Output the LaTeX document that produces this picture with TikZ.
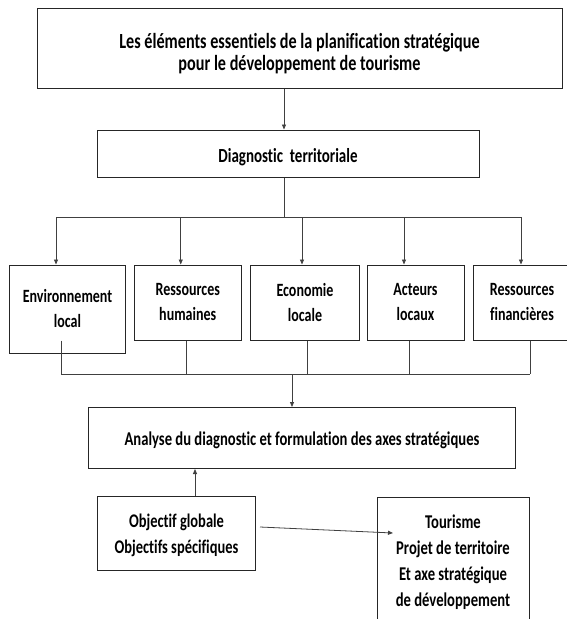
\documentclass[tikz,border=0pt]{standalone}
\usepackage{fontspec}
\setmainfont[FakeStretch=0.75,Ligatures={NoCommon}]{Carlito}
\usetikzlibrary{arrows.meta}
\begin{document}
\begin{tikzpicture}[x=1pt,y=-1pt,
  box/.style={draw=black!85, line width=1pt, align=center, inner sep=0pt,
    font=\bfseries\fontsize{18.7}{25}\selectfont},
  conn/.style={draw=black!75, line width=0.8pt},
  arr/.style={conn, -{Triangle[length=5pt,width=4pt]}}]
\useasboundingbox (0,0) rectangle (567,619);
% boxes
\node[box, minimum width=525pt, minimum height=80pt,
      font=\bfseries\fontsize{21.6}{22}\selectfont] (title) at (299.5,48)
  {\rule{0pt}{26pt}Les éléments essentiels de la planification stratégique\\ pour le développement de tourisme};
\node[box, minimum width=382pt, minimum height=47pt, font=\bfseries\fontsize{20}{25}\selectfont] (diag) at (288,153.5) {\rule{0pt}{22pt}Diagnostic\ \ territoriale};
\node[box, minimum width=116.5pt, minimum height=88pt] (env) at (67.5,309) {Environnement\\local};
\node[box, minimum width=106.5pt, minimum height=75pt] (hum) at (187.75,302.5) {Ressources\\humaines};
\node[box, minimum width=109pt, minimum height=75pt] (eco) at (305,302.5) {Economie\\locale};
\node[box, minimum width=97pt, minimum height=75pt] (act) at (415.5,302.5) {Acteurs\\locaux};
\node[box, minimum width=98pt, minimum height=75pt] (fin) at (522,302.5) {Ressources\\financières};
\node[box, minimum width=427pt, minimum height=61pt, font=\bfseries\fontsize{19.5}{25}\selectfont] (ana) at (302,438) {\rule{0pt}{19pt}Analyse du diagnostic et formulation des axes stratégiques};
\node[box, minimum width=158pt, minimum height=74pt, font=\bfseries\fontsize{19.3}{26}\selectfont] (obj) at (176.5,533) {\rule{0pt}{19pt}Objectif globale\\Objectifs spécifiques};
\node[box, minimum width=152pt, minimum height=128pt, font=\bfseries\fontsize{19.5}{26}\selectfont] (tour) at (453,561) {\rule{0pt}{16pt}Tourisme\\Projet de territoire\\Et axe stratégique\\de développement};
% helper coordinates
\coordinate (b1L) at (56,217);
\coordinate (b1R) at (521,217);
\coordinate (b2L) at (61,374);
\coordinate (b2R) at (530,374);
\coordinate (tin) at ([xshift=-15.5pt]title.south);
\coordinate (dout) at ([xshift=-4pt]diag.south);
\coordinate (ehin) at ([xshift=-7pt]hum.north);
\coordinate (ecin) at ([xshift=-3pt]eco.north);
\coordinate (ain) at ([xshift=-11.5pt]act.north);
\coordinate (fin1) at ([xshift=-1pt]fin.north);
\coordinate (hout) at ([xshift=-1.75pt]hum.south);
\coordinate (ecout) at ([xshift=2pt]eco.south);
\coordinate (aout) at ([xshift=-6.5pt]act.south);
\coordinate (anin) at ([xshift=-10pt]ana.north);
\coordinate (oup) at ([xshift=18.5pt]obj.north);
\coordinate (oright) at ([xshift=4pt,yshift=6pt]obj.east);
\coordinate (tarr) at ([xshift=16.5pt,yshift=28pt]tour.west);
% connectors
\draw[arr] (tin) -- (tin |- diag.north);
\draw[conn] (dout) -- (dout |- b1L);
\draw[conn] (b1L) -- (b1R);
\draw[arr] (b1L) -- (b1L |- env.north);
\draw[arr] (ehin |- b1L) -- (ehin);
\draw[arr] (ecin |- b1L) -- (ecin);
\draw[arr] (ain |- b1L) -- (ain);
\draw[arr] (fin1 |- b1L) -- (fin1);
\draw[conn] (b2L |- hum.south) -- (b2L);
\draw[conn] (hout) -- (hout |- b2L);
\draw[conn] (ecout) -- (ecout |- b2L);
\draw[conn] (aout) -- (aout |- b2L);
\draw[conn] (b2R |- fin.south) -- (b2R);
\draw[conn] (b2L) -- (b2R);
\draw[arr] (anin |- b2L) -- (anin);
\draw[arr] (oup) -- (oup |- ana.south);
\draw[arr] (oright) -- (tarr);
\end{tikzpicture}
\end{document}
